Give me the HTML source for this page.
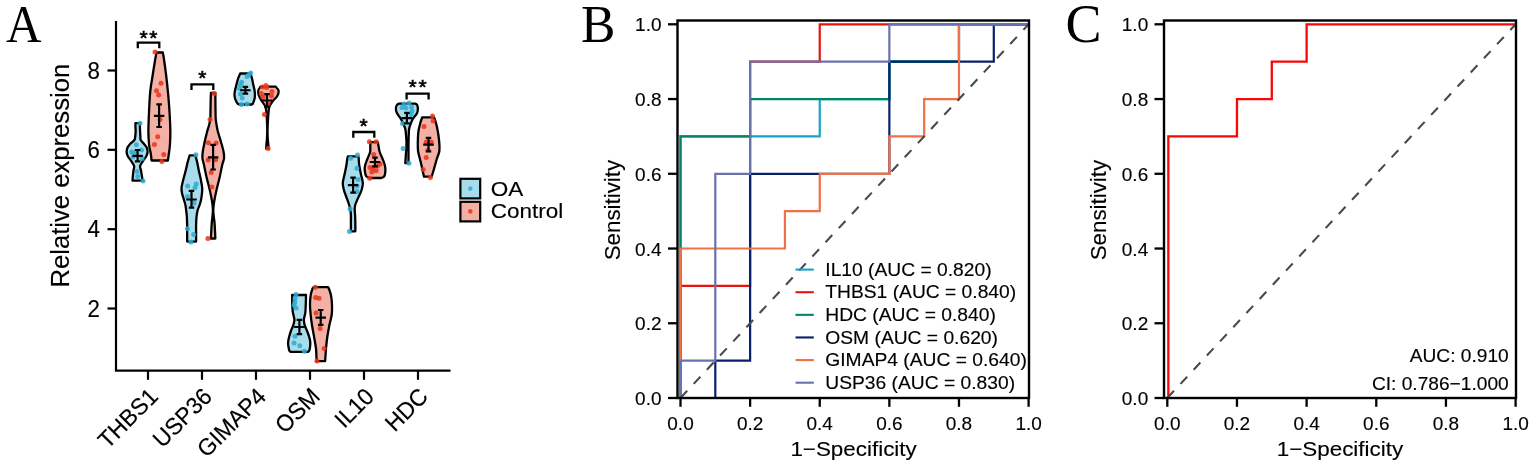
<!DOCTYPE html>
<html lang="en"><head><meta charset="utf-8"><title>Figure</title>
<style>
html,body{margin:0;padding:0;background:#fff;}
body{width:1535px;height:468px;overflow:hidden;}
svg{display:block;}
text{font-family:"Liberation Sans",sans-serif;fill:#000;stroke:#000;stroke-width:0.15px;}
text.sf{font-family:"Liberation Serif",serif;stroke:none;}
</style></head><body>
<svg width="1535" height="468" viewBox="0 0 1535 468">
<rect x="0" y="0" width="1535" height="468" fill="#fff"/>
<text class="sf" transform="translate(6.00,41.70) scale(1,1.080)" font-size="49.20">A</text>
<text class="sf" transform="translate(581.00,41.70) scale(1,1.009)" font-size="51.60">B</text>
<text class="sf" transform="translate(1065.40,42.00) scale(1,1.000)" font-size="54.00">C</text>
<g id="panelA">
<path d="M116.00,21V370.60H450.5" fill="none" stroke="#000" stroke-width="2.2" stroke-linejoin="miter"/>
<path d="M107.5,70.50H116.00" stroke="#000" stroke-width="2.2"/>
<text transform="translate(100.00,78.63) scale(1,1.060)" font-size="22.30" text-anchor="end">8</text>
<path d="M107.5,149.80H116.00" stroke="#000" stroke-width="2.2"/>
<text transform="translate(100.00,157.93) scale(1,1.060)" font-size="22.30" text-anchor="end">6</text>
<path d="M107.5,229.20H116.00" stroke="#000" stroke-width="2.2"/>
<text transform="translate(100.00,237.33) scale(1,1.060)" font-size="22.30" text-anchor="end">4</text>
<path d="M107.5,308.50H116.00" stroke="#000" stroke-width="2.2"/>
<text transform="translate(100.00,316.63) scale(1,1.060)" font-size="22.30" text-anchor="end">2</text>
<path d="M148.00,370.60V379.8" stroke="#000" stroke-width="2.2"/>
<text transform="translate(159.40,398.00) rotate(-45) scale(1,1.040)" font-size="22.70" text-anchor="end">THBS1</text>
<path d="M202.00,370.60V379.8" stroke="#000" stroke-width="2.2"/>
<text transform="translate(213.40,398.00) rotate(-45) scale(1,1.040)" font-size="22.70" text-anchor="end">USP36</text>
<path d="M256.00,370.60V379.8" stroke="#000" stroke-width="2.2"/>
<text transform="translate(267.40,398.00) rotate(-45) scale(1,1.040)" font-size="22.70" text-anchor="end">GIMAP4</text>
<path d="M310.00,370.60V379.8" stroke="#000" stroke-width="2.2"/>
<text transform="translate(321.40,398.00) rotate(-45) scale(1,1.040)" font-size="22.70" text-anchor="end">OSM</text>
<path d="M364.00,370.60V379.8" stroke="#000" stroke-width="2.2"/>
<text transform="translate(375.40,398.00) rotate(-45) scale(1,1.040)" font-size="22.70" text-anchor="end">IL10</text>
<path d="M418.00,370.60V379.8" stroke="#000" stroke-width="2.2"/>
<text transform="translate(429.40,398.00) rotate(-45) scale(1,1.040)" font-size="22.70" text-anchor="end">HDC</text>
<text transform="translate(69.3,175.7) rotate(-90) scale(1,0.99)" font-size="25.65" text-anchor="middle">Relative expression</text>
<path d="M135.40,123.20 C135.42,123.83 135.46,125.60 135.50,127.00 C135.54,128.40 135.70,130.00 135.65,131.60 C135.60,133.20 135.41,135.20 135.20,136.60 C134.99,138.00 135.22,138.81 134.40,140.00 C133.58,141.19 131.45,142.50 130.30,143.75 C129.15,145.00 128.12,146.14 127.50,147.50 C126.88,148.86 126.55,150.44 126.60,151.90 C126.65,153.36 127.08,154.80 127.80,156.25 C128.52,157.70 129.85,158.97 130.90,160.60 C131.95,162.22 133.67,164.35 134.10,166.00 C134.53,167.65 133.72,168.71 133.50,170.50 C133.28,172.29 132.97,175.05 132.80,176.75 C132.63,178.45 132.55,180.04 132.50,180.70 L142.60,180.70 C142.50,180.04 142.27,178.45 142.00,176.75 C141.73,175.05 141.32,172.29 141.00,170.50 C140.68,168.71 139.73,167.65 140.10,166.00 C140.47,164.35 142.16,162.22 143.20,160.60 C144.24,158.97 145.62,157.70 146.35,156.25 C147.08,154.80 147.54,153.36 147.60,151.90 C147.66,150.44 147.32,148.86 146.70,147.50 C146.07,146.14 144.85,145.00 143.85,143.75 C142.85,142.50 141.27,141.19 140.70,140.00 C140.12,138.81 140.50,138.00 140.40,136.60 C140.30,135.20 140.18,133.20 140.10,131.60 C140.02,130.00 139.95,128.40 139.90,127.00 C139.85,125.60 139.82,123.83 139.80,123.20 Z" fill="#a9dcea" stroke="#000" stroke-width="2.30" stroke-linejoin="round"/>
<path d="M156.50,52.50 C156.27,53.75 155.73,56.25 155.10,60.00 C154.47,63.75 153.50,69.83 152.70,75.00 C151.90,80.17 150.90,85.17 150.30,91.00 C149.70,96.83 149.42,103.25 149.10,110.00 C148.78,116.75 148.40,125.67 148.40,131.50 C148.40,137.33 148.75,141.58 149.10,145.00 C149.45,148.42 150.15,150.00 150.50,152.00 C150.85,154.00 151.03,155.58 151.20,157.00 C151.37,158.42 151.45,159.92 151.50,160.50 L167.85,160.50 C167.94,159.92 168.19,158.42 168.40,157.00 C168.61,155.58 168.85,154.00 169.10,152.00 C169.35,150.00 169.69,148.42 169.90,145.00 C170.11,141.58 170.43,137.33 170.35,131.50 C170.27,125.67 169.82,116.75 169.40,110.00 C168.98,103.25 168.40,96.83 167.85,91.00 C167.30,85.17 166.72,80.17 166.10,75.00 C165.47,69.83 164.64,63.75 164.10,60.00 C163.56,56.25 163.06,53.75 162.85,52.50 Z" fill="#f5b0a6" stroke="#000" stroke-width="2.30" stroke-linejoin="round"/>
<path d="M189.65,155.40 C189.33,156.50 188.37,159.44 187.70,162.00 C187.03,164.56 186.40,167.75 185.65,170.75 C184.90,173.75 183.89,177.12 183.20,180.00 C182.51,182.88 181.67,185.67 181.50,188.00 C181.33,190.33 181.78,192.00 182.20,194.00 C182.62,196.00 183.47,198.17 184.00,200.00 C184.53,201.83 185.05,203.33 185.40,205.00 C185.75,206.67 185.87,208.17 186.10,210.00 C186.33,211.83 186.62,213.50 186.80,216.00 C186.98,218.50 187.09,222.00 187.15,225.00 C187.21,228.00 187.15,231.23 187.15,234.00 C187.15,236.77 187.15,240.33 187.15,241.60 L196.10,241.60 C196.10,240.33 196.10,236.77 196.10,234.00 C196.10,231.23 196.02,228.00 196.10,225.00 C196.18,222.00 196.33,218.50 196.60,216.00 C196.87,213.50 197.20,211.83 197.70,210.00 C198.20,208.17 199.05,206.67 199.60,205.00 C200.15,203.33 200.62,201.83 201.00,200.00 C201.38,198.17 201.70,196.00 201.90,194.00 C202.10,192.00 202.37,190.33 202.20,188.00 C202.03,185.67 201.46,182.88 200.90,180.00 C200.34,177.12 199.48,173.75 198.85,170.75 C198.22,167.75 197.68,164.56 197.10,162.00 C196.52,159.44 195.64,156.50 195.35,155.40 Z" fill="#a9dcea" stroke="#000" stroke-width="2.30" stroke-linejoin="round"/>
<path d="M210.90,92.90 C210.87,94.08 210.77,97.15 210.70,100.00 C210.63,102.85 210.57,106.83 210.50,110.00 C210.43,113.17 210.53,116.50 210.30,119.00 C210.07,121.50 209.62,122.92 209.10,125.00 C208.57,127.08 207.89,128.67 207.15,131.50 C206.41,134.33 205.38,138.67 204.65,142.00 C203.93,145.33 203.18,148.83 202.80,151.50 C202.43,154.17 202.20,155.75 202.40,158.00 C202.60,160.25 203.32,161.83 204.00,165.00 C204.68,168.17 205.56,172.92 206.50,177.00 C207.44,181.08 208.71,185.33 209.65,189.50 C210.59,193.67 211.61,198.67 212.15,202.00 C212.69,205.33 212.84,207.17 212.90,209.50 C212.96,211.83 212.68,213.83 212.50,216.00 C212.32,218.17 212.00,220.00 211.80,222.50 C211.60,225.00 211.45,228.33 211.30,231.00 C211.15,233.67 210.97,237.25 210.90,238.50 L215.35,238.50 C215.29,237.25 215.14,233.67 215.00,231.00 C214.86,228.33 214.72,225.00 214.50,222.50 C214.28,220.00 213.90,218.17 213.70,216.00 C213.50,213.83 213.23,211.83 213.30,209.50 C213.37,207.17 213.55,205.33 214.10,202.00 C214.65,198.67 215.67,193.67 216.60,189.50 C217.53,185.33 218.77,181.08 219.70,177.00 C220.63,172.92 221.47,168.17 222.20,165.00 C222.93,161.83 223.88,160.25 224.10,158.00 C224.32,155.75 224.02,154.17 223.50,151.50 C222.98,148.83 221.94,145.33 221.00,142.00 C220.06,138.67 218.58,134.33 217.85,131.50 C217.12,128.67 216.96,127.08 216.60,125.00 C216.24,122.92 215.88,121.50 215.70,119.00 C215.52,116.50 215.55,113.17 215.50,110.00 C215.45,106.83 215.43,102.85 215.40,100.00 C215.38,97.15 215.36,94.08 215.35,92.90 Z" fill="#f5b0a6" stroke="#000" stroke-width="2.30" stroke-linejoin="round"/>
<path d="M240.20,73.50 C239.85,74.33 238.73,76.62 238.10,78.50 C237.47,80.38 236.90,82.83 236.40,84.75 C235.90,86.67 235.42,88.46 235.10,90.00 C234.78,91.54 234.53,92.67 234.50,94.00 C234.47,95.33 234.60,96.75 234.90,98.00 C235.20,99.25 235.83,100.53 236.30,101.50 C236.77,102.47 237.22,103.30 237.70,103.80 C238.18,104.30 238.95,104.38 239.20,104.50 L251.90,104.50 C252.03,104.38 252.40,104.30 252.70,103.80 C253.00,103.30 253.37,102.47 253.70,101.50 C254.03,100.53 254.50,99.25 254.70,98.00 C254.90,96.75 254.93,95.33 254.90,94.00 C254.87,92.67 254.77,91.54 254.50,90.00 C254.23,88.46 253.72,86.67 253.30,84.75 C252.88,82.83 252.50,80.38 252.00,78.50 C251.50,76.62 250.58,74.33 250.30,73.50 Z" fill="#a9dcea" stroke="#000" stroke-width="2.30" stroke-linejoin="round"/>
<path d="M260.50,86.70 C260.13,87.29 258.63,88.95 258.30,90.25 C257.97,91.55 258.18,93.14 258.50,94.50 C258.82,95.86 259.55,97.15 260.20,98.40 C260.85,99.65 261.62,100.80 262.40,102.00 C263.18,103.20 264.28,104.27 264.90,105.60 C265.52,106.93 265.78,107.77 266.10,110.00 C266.42,112.23 266.62,115.83 266.80,119.00 C266.98,122.17 267.17,126.00 267.20,129.00 C267.23,132.00 267.13,134.50 267.00,137.00 C266.87,139.50 266.55,142.05 266.40,144.00 C266.25,145.95 266.15,147.92 266.10,148.70 L268.70,148.70 C268.63,147.92 268.47,145.95 268.30,144.00 C268.13,142.05 267.82,139.50 267.70,137.00 C267.58,134.50 267.53,132.00 267.60,129.00 C267.67,126.00 267.90,122.17 268.10,119.00 C268.30,115.83 268.50,112.23 268.80,110.00 C269.10,107.77 269.12,107.22 269.90,105.60 C270.68,103.97 272.32,101.77 273.50,100.25 C274.68,98.73 276.13,98.06 277.00,96.50 C277.87,94.94 278.92,92.53 278.70,90.90 C278.48,89.27 276.20,87.40 275.70,86.70 Z" fill="#f5b0a6" stroke="#000" stroke-width="2.2" stroke-linejoin="round"/>
<path d="M292.20,295.00 C292.20,295.83 292.18,298.17 292.20,300.00 C292.22,301.83 292.20,304.00 292.30,306.00 C292.40,308.00 292.57,310.33 292.80,312.00 C293.03,313.67 293.43,314.75 293.70,316.00 C293.97,317.25 294.33,318.50 294.40,319.50 C294.47,320.50 294.25,321.17 294.10,322.00 C293.95,322.83 293.78,323.58 293.50,324.50 C293.22,325.42 292.82,326.46 292.40,327.50 C291.98,328.54 291.55,329.17 291.00,330.75 C290.45,332.33 289.55,335.33 289.10,337.00 C288.65,338.67 288.47,339.58 288.30,340.75 C288.13,341.92 288.02,342.71 288.10,344.00 C288.18,345.29 288.57,347.33 288.80,348.50 C289.03,349.67 289.18,350.44 289.50,351.00 C289.82,351.56 290.50,351.71 290.70,351.85 L307.90,351.85 C308.08,351.71 308.68,351.56 309.00,351.00 C309.32,350.44 309.58,349.67 309.80,348.50 C310.02,347.33 310.25,345.29 310.30,344.00 C310.35,342.71 310.28,341.92 310.10,340.75 C309.92,339.58 309.72,338.67 309.20,337.00 C308.68,335.33 307.60,332.33 307.00,330.75 C306.40,329.17 306.02,328.54 305.60,327.50 C305.18,326.46 304.75,325.42 304.50,324.50 C304.25,323.58 304.21,322.83 304.10,322.00 C303.99,321.17 303.77,320.50 303.85,319.50 C303.93,318.50 304.34,317.25 304.60,316.00 C304.86,314.75 305.22,313.67 305.40,312.00 C305.58,310.33 305.62,308.00 305.70,306.00 C305.78,304.00 305.85,301.83 305.90,300.00 C305.95,298.17 305.98,295.83 306.00,295.00 Z" fill="#a9dcea" stroke="#000" stroke-width="2.30" stroke-linejoin="round"/>
<path d="M313.50,287.20 C313.32,287.50 312.88,287.63 312.40,289.00 C311.92,290.37 311.05,292.77 310.65,295.40 C310.25,298.02 310.00,301.52 310.00,304.75 C310.00,307.98 310.33,311.46 310.65,314.75 C310.97,318.04 311.32,320.79 311.90,324.50 C312.47,328.21 313.42,333.00 314.10,337.00 C314.78,341.00 315.62,345.33 316.00,348.50 C316.38,351.67 316.30,353.90 316.40,356.00 C316.50,358.10 316.57,360.25 316.60,361.10 L325.10,361.10 C325.17,360.25 325.35,358.10 325.50,356.00 C325.65,353.90 325.70,351.67 326.00,348.50 C326.30,345.33 326.72,341.00 327.30,337.00 C327.88,333.00 328.77,328.21 329.50,324.50 C330.23,320.79 331.28,318.04 331.70,314.75 C332.12,311.46 332.12,307.98 332.00,304.75 C331.88,301.52 331.50,298.02 331.00,295.40 C330.50,292.77 329.48,290.37 329.00,289.00 C328.52,287.63 328.25,287.50 328.10,287.20 Z" fill="#f5b0a6" stroke="#000" stroke-width="2.30" stroke-linejoin="round"/>
<path d="M347.80,156.40 C347.68,157.00 347.32,158.65 347.10,160.00 C346.88,161.35 346.77,162.83 346.50,164.50 C346.23,166.17 345.85,168.25 345.50,170.00 C345.15,171.75 344.85,172.83 344.40,175.00 C343.95,177.17 342.88,180.50 342.80,183.00 C342.72,185.50 343.38,187.88 343.90,190.00 C344.42,192.12 345.05,193.33 345.90,195.75 C346.75,198.17 348.27,202.21 349.00,204.50 C349.73,206.79 349.98,207.75 350.30,209.50 C350.62,211.25 350.80,212.58 350.90,215.00 C351.00,217.42 350.90,221.28 350.90,224.00 C350.90,226.72 350.90,230.12 350.90,231.35 L355.35,231.35 C355.35,230.12 355.39,226.72 355.35,224.00 C355.31,221.28 355.21,217.42 355.10,215.00 C354.99,212.58 354.66,211.25 354.70,209.50 C354.74,207.75 354.62,206.79 355.35,204.50 C356.08,202.21 358.06,198.17 359.10,195.75 C360.14,193.33 360.98,192.12 361.60,190.00 C362.23,187.88 362.93,185.50 362.85,183.00 C362.77,180.50 361.56,177.17 361.10,175.00 C360.64,172.83 360.43,171.75 360.10,170.00 C359.77,168.25 359.32,166.17 359.10,164.50 C358.88,162.83 358.90,161.35 358.80,160.00 C358.70,158.65 358.55,157.00 358.50,156.40 Z" fill="#a9dcea" stroke="#000" stroke-width="2.30" stroke-linejoin="round"/>
<path d="M370.30,142.15 C370.30,142.96 370.33,145.36 370.30,147.00 C370.27,148.64 370.62,149.92 370.10,152.00 C369.57,154.08 367.92,157.50 367.15,159.50 C366.38,161.50 365.92,162.54 365.50,164.00 C365.08,165.46 364.68,166.67 364.65,168.25 C364.62,169.83 364.99,172.12 365.30,173.50 C365.61,174.88 365.73,175.75 366.50,176.50 C367.27,177.25 369.33,177.75 369.90,178.00 L381.30,178.00 C381.77,177.75 383.47,177.25 384.10,176.50 C384.73,175.75 384.89,174.88 385.10,173.50 C385.31,172.12 385.45,169.83 385.35,168.25 C385.25,166.67 384.92,165.46 384.50,164.00 C384.08,162.54 383.65,161.50 382.85,159.50 C382.05,157.50 380.39,154.08 379.70,152.00 C379.01,149.92 379.01,148.64 378.70,147.00 C378.39,145.36 377.99,142.96 377.85,142.15 Z" fill="#f5b0a6" stroke="#000" stroke-width="2.30" stroke-linejoin="round"/>
<path d="M398.90,103.65 C398.57,103.88 397.40,104.21 396.90,105.00 C396.40,105.79 395.90,107.07 395.90,108.40 C395.90,109.73 396.07,111.23 396.90,113.00 C397.73,114.77 399.82,117.17 400.90,119.00 C401.98,120.83 402.67,122.33 403.40,124.00 C404.13,125.67 404.85,127.00 405.30,129.00 C405.75,131.00 405.90,133.50 406.10,136.00 C406.30,138.50 406.53,141.00 406.50,144.00 C406.47,147.00 406.10,150.83 405.90,154.00 C405.70,157.17 405.40,161.50 405.30,163.00 L408.50,163.00 C408.50,161.50 408.50,157.17 408.50,154.00 C408.50,150.83 408.47,147.00 408.50,144.00 C408.53,141.00 408.60,138.50 408.70,136.00 C408.80,133.50 408.78,131.00 409.10,129.00 C409.42,127.00 409.98,125.67 410.60,124.00 C411.23,122.33 411.77,120.83 412.85,119.00 C413.93,117.17 416.27,114.77 417.10,113.00 C417.93,111.23 417.85,109.73 417.85,108.40 C417.85,107.07 417.52,105.79 417.10,105.00 C416.68,104.21 415.64,103.88 415.35,103.65 Z" fill="#a9dcea" stroke="#000" stroke-width="2.30" stroke-linejoin="round"/>
<path d="M422.15,117.40 C421.84,118.33 420.92,120.65 420.30,123.00 C419.67,125.35 418.80,128.83 418.40,131.50 C418.00,134.17 418.00,136.75 417.90,139.00 C417.80,141.25 417.77,142.92 417.80,145.00 C417.83,147.08 417.78,149.33 418.10,151.50 C418.42,153.67 419.15,155.75 419.70,158.00 C420.25,160.25 420.87,162.67 421.40,165.00 C421.93,167.33 422.47,170.05 422.90,172.00 C423.33,173.95 423.82,175.92 424.00,176.70 L431.60,176.70 C431.85,175.92 432.52,173.95 433.10,172.00 C433.68,170.05 434.43,167.33 435.10,165.00 C435.77,162.67 436.40,160.25 437.10,158.00 C437.80,155.75 438.92,153.67 439.30,151.50 C439.68,149.33 439.47,147.08 439.40,145.00 C439.33,142.92 439.16,141.25 438.90,139.00 C438.64,136.75 438.33,134.17 437.85,131.50 C437.37,128.83 436.62,125.35 436.00,123.00 C435.38,120.65 434.42,118.33 434.10,117.40 Z" fill="#f5b0a6" stroke="#000" stroke-width="2.30" stroke-linejoin="round"/>
<circle cx="140.0" cy="123.2" r="2.5" fill="#2dabd3" fill-opacity="0.85"/>
<circle cx="136.3" cy="144.7" r="2.5" fill="#2dabd3" fill-opacity="0.85"/>
<circle cx="131.6" cy="151.9" r="2.5" fill="#2dabd3" fill-opacity="0.85"/>
<circle cx="134.5" cy="152.6" r="2.5" fill="#2dabd3" fill-opacity="0.85"/>
<circle cx="141.5" cy="150.0" r="2.5" fill="#2dabd3" fill-opacity="0.85"/>
<circle cx="133.0" cy="157.0" r="2.5" fill="#2dabd3" fill-opacity="0.85"/>
<circle cx="142.0" cy="158.5" r="2.5" fill="#2dabd3" fill-opacity="0.85"/>
<circle cx="137.2" cy="171.4" r="2.5" fill="#2dabd3" fill-opacity="0.85"/>
<circle cx="137.7" cy="176.4" r="2.5" fill="#2dabd3" fill-opacity="0.85"/>
<circle cx="143.0" cy="181.0" r="2.5" fill="#2dabd3" fill-opacity="0.85"/>
<circle cx="155.0" cy="52.0" r="2.5" fill="#ea3419" fill-opacity="0.85"/>
<circle cx="161.0" cy="83.2" r="2.5" fill="#ea3419" fill-opacity="0.85"/>
<circle cx="156.5" cy="90.7" r="2.5" fill="#ea3419" fill-opacity="0.85"/>
<circle cx="158.7" cy="95.0" r="2.5" fill="#ea3419" fill-opacity="0.85"/>
<circle cx="160.0" cy="119.6" r="2.5" fill="#ea3419" fill-opacity="0.85"/>
<circle cx="157.7" cy="136.7" r="2.5" fill="#ea3419" fill-opacity="0.85"/>
<circle cx="154.4" cy="144.6" r="2.5" fill="#ea3419" fill-opacity="0.85"/>
<circle cx="163.8" cy="154.4" r="2.5" fill="#ea3419" fill-opacity="0.85"/>
<circle cx="161.9" cy="161.6" r="2.5" fill="#ea3419" fill-opacity="0.85"/>
<circle cx="196.0" cy="154.7" r="2.5" fill="#2dabd3" fill-opacity="0.85"/>
<circle cx="196.2" cy="183.9" r="2.5" fill="#2dabd3" fill-opacity="0.85"/>
<circle cx="187.7" cy="186.0" r="2.5" fill="#2dabd3" fill-opacity="0.85"/>
<circle cx="195.0" cy="187.6" r="2.5" fill="#2dabd3" fill-opacity="0.85"/>
<circle cx="187.5" cy="196.4" r="2.5" fill="#2dabd3" fill-opacity="0.85"/>
<circle cx="194.0" cy="203.0" r="2.5" fill="#2dabd3" fill-opacity="0.85"/>
<circle cx="187.5" cy="228.7" r="2.5" fill="#2dabd3" fill-opacity="0.85"/>
<circle cx="193.7" cy="234.4" r="2.5" fill="#2dabd3" fill-opacity="0.85"/>
<circle cx="190.9" cy="241.9" r="2.5" fill="#2dabd3" fill-opacity="0.85"/>
<circle cx="214.2" cy="93.5" r="2.5" fill="#ea3419" fill-opacity="0.85"/>
<circle cx="210.0" cy="119.6" r="2.5" fill="#ea3419" fill-opacity="0.85"/>
<circle cx="208.4" cy="142.7" r="2.5" fill="#ea3419" fill-opacity="0.85"/>
<circle cx="216.2" cy="143.0" r="2.5" fill="#ea3419" fill-opacity="0.85"/>
<circle cx="208.1" cy="160.1" r="2.5" fill="#ea3419" fill-opacity="0.85"/>
<circle cx="215.6" cy="159.7" r="2.5" fill="#ea3419" fill-opacity="0.85"/>
<circle cx="211.2" cy="172.6" r="2.5" fill="#ea3419" fill-opacity="0.85"/>
<circle cx="211.9" cy="187.0" r="2.5" fill="#ea3419" fill-opacity="0.85"/>
<circle cx="207.9" cy="238.5" r="2.5" fill="#ea3419" fill-opacity="0.85"/>
<circle cx="250.7" cy="72.9" r="2.5" fill="#2dabd3" fill-opacity="0.85"/>
<circle cx="248.8" cy="74.8" r="2.5" fill="#2dabd3" fill-opacity="0.85"/>
<circle cx="247.0" cy="76.6" r="2.5" fill="#2dabd3" fill-opacity="0.85"/>
<circle cx="241.6" cy="82.2" r="2.5" fill="#2dabd3" fill-opacity="0.85"/>
<circle cx="240.4" cy="84.7" r="2.5" fill="#2dabd3" fill-opacity="0.85"/>
<circle cx="239.5" cy="88.5" r="2.5" fill="#2dabd3" fill-opacity="0.85"/>
<circle cx="240.5" cy="94.0" r="2.5" fill="#2dabd3" fill-opacity="0.85"/>
<circle cx="242.2" cy="98.0" r="2.5" fill="#2dabd3" fill-opacity="0.85"/>
<circle cx="241.6" cy="104.6" r="2.5" fill="#2dabd3" fill-opacity="0.85"/>
<circle cx="247.2" cy="104.0" r="2.5" fill="#2dabd3" fill-opacity="0.85"/>
<circle cx="262.6" cy="87.0" r="2.5" fill="#ea3419" fill-opacity="0.85"/>
<circle cx="266.0" cy="85.4" r="2.5" fill="#ea3419" fill-opacity="0.85"/>
<circle cx="266.6" cy="87.6" r="2.5" fill="#ea3419" fill-opacity="0.85"/>
<circle cx="272.0" cy="91.6" r="2.5" fill="#ea3419" fill-opacity="0.85"/>
<circle cx="261.3" cy="93.5" r="2.5" fill="#ea3419" fill-opacity="0.85"/>
<circle cx="263.0" cy="97.0" r="2.5" fill="#ea3419" fill-opacity="0.85"/>
<circle cx="271.5" cy="96.0" r="2.5" fill="#ea3419" fill-opacity="0.85"/>
<circle cx="264.4" cy="114.6" r="2.5" fill="#ea3419" fill-opacity="0.85"/>
<circle cx="268.1" cy="148.6" r="2.5" fill="#ea3419" fill-opacity="0.85"/>
<circle cx="268.0" cy="104.0" r="2.5" fill="#ea3419" fill-opacity="0.85"/>
<circle cx="296.0" cy="294.4" r="2.5" fill="#2dabd3" fill-opacity="0.85"/>
<circle cx="295.0" cy="298.2" r="2.5" fill="#2dabd3" fill-opacity="0.85"/>
<circle cx="294.8" cy="302.0" r="2.5" fill="#2dabd3" fill-opacity="0.85"/>
<circle cx="294.1" cy="305.0" r="2.5" fill="#2dabd3" fill-opacity="0.85"/>
<circle cx="296.0" cy="307.9" r="2.5" fill="#2dabd3" fill-opacity="0.85"/>
<circle cx="295.0" cy="336.3" r="2.5" fill="#2dabd3" fill-opacity="0.85"/>
<circle cx="294.1" cy="342.9" r="2.5" fill="#2dabd3" fill-opacity="0.85"/>
<circle cx="299.8" cy="345.7" r="2.5" fill="#2dabd3" fill-opacity="0.85"/>
<circle cx="304.4" cy="351.3" r="2.5" fill="#2dabd3" fill-opacity="0.85"/>
<circle cx="315.4" cy="287.2" r="2.5" fill="#ea3419" fill-opacity="0.85"/>
<circle cx="315.7" cy="297.6" r="2.5" fill="#ea3419" fill-opacity="0.85"/>
<circle cx="319.1" cy="298.2" r="2.5" fill="#ea3419" fill-opacity="0.85"/>
<circle cx="316.0" cy="312.9" r="2.5" fill="#ea3419" fill-opacity="0.85"/>
<circle cx="320.1" cy="328.6" r="2.5" fill="#ea3419" fill-opacity="0.85"/>
<circle cx="324.1" cy="348.5" r="2.5" fill="#ea3419" fill-opacity="0.85"/>
<circle cx="316.9" cy="361.0" r="2.5" fill="#ea3419" fill-opacity="0.85"/>
<circle cx="357.5" cy="155.1" r="2.5" fill="#2dabd3" fill-opacity="0.85"/>
<circle cx="350.6" cy="158.2" r="2.5" fill="#2dabd3" fill-opacity="0.85"/>
<circle cx="356.9" cy="168.2" r="2.5" fill="#2dabd3" fill-opacity="0.85"/>
<circle cx="358.1" cy="179.5" r="2.5" fill="#2dabd3" fill-opacity="0.85"/>
<circle cx="356.9" cy="191.4" r="2.5" fill="#2dabd3" fill-opacity="0.85"/>
<circle cx="350.0" cy="208.9" r="2.5" fill="#2dabd3" fill-opacity="0.85"/>
<circle cx="349.4" cy="231.5" r="2.5" fill="#2dabd3" fill-opacity="0.85"/>
<circle cx="357.0" cy="186.0" r="2.5" fill="#2dabd3" fill-opacity="0.85"/>
<circle cx="369.4" cy="141.7" r="2.5" fill="#ea3419" fill-opacity="0.85"/>
<circle cx="376.2" cy="141.7" r="2.5" fill="#ea3419" fill-opacity="0.85"/>
<circle cx="373.7" cy="154.5" r="2.5" fill="#ea3419" fill-opacity="0.85"/>
<circle cx="380.0" cy="163.9" r="2.5" fill="#ea3419" fill-opacity="0.85"/>
<circle cx="370.0" cy="167.6" r="2.5" fill="#ea3419" fill-opacity="0.85"/>
<circle cx="376.2" cy="170.7" r="2.5" fill="#ea3419" fill-opacity="0.85"/>
<circle cx="371.9" cy="172.0" r="2.5" fill="#ea3419" fill-opacity="0.85"/>
<circle cx="369.7" cy="178.2" r="2.5" fill="#ea3419" fill-opacity="0.85"/>
<circle cx="373.0" cy="168.0" r="2.5" fill="#ea3419" fill-opacity="0.85"/>
<circle cx="377.5" cy="166.0" r="2.5" fill="#ea3419" fill-opacity="0.85"/>
<circle cx="404.0" cy="104.0" r="2.5" fill="#2dabd3" fill-opacity="0.85"/>
<circle cx="409.0" cy="103.0" r="2.5" fill="#2dabd3" fill-opacity="0.85"/>
<circle cx="411.5" cy="107.0" r="2.5" fill="#2dabd3" fill-opacity="0.85"/>
<circle cx="406.0" cy="108.0" r="2.5" fill="#2dabd3" fill-opacity="0.85"/>
<circle cx="402.0" cy="107.5" r="2.5" fill="#2dabd3" fill-opacity="0.85"/>
<circle cx="412.0" cy="111.0" r="2.5" fill="#2dabd3" fill-opacity="0.85"/>
<circle cx="411.0" cy="114.5" r="2.5" fill="#2dabd3" fill-opacity="0.85"/>
<circle cx="402.5" cy="123.4" r="2.5" fill="#2dabd3" fill-opacity="0.85"/>
<circle cx="403.1" cy="148.4" r="2.5" fill="#2dabd3" fill-opacity="0.85"/>
<circle cx="409.0" cy="163.2" r="2.5" fill="#2dabd3" fill-opacity="0.85"/>
<circle cx="432.5" cy="115.9" r="2.5" fill="#ea3419" fill-opacity="0.85"/>
<circle cx="433.1" cy="120.9" r="2.5" fill="#ea3419" fill-opacity="0.85"/>
<circle cx="424.0" cy="126.5" r="2.5" fill="#ea3419" fill-opacity="0.85"/>
<circle cx="426.2" cy="142.1" r="2.5" fill="#ea3419" fill-opacity="0.85"/>
<circle cx="431.2" cy="142.1" r="2.5" fill="#ea3419" fill-opacity="0.85"/>
<circle cx="426.2" cy="157.6" r="2.5" fill="#ea3419" fill-opacity="0.85"/>
<circle cx="423.1" cy="169.5" r="2.5" fill="#ea3419" fill-opacity="0.85"/>
<circle cx="430.4" cy="177.6" r="2.5" fill="#ea3419" fill-opacity="0.85"/>
<circle cx="428.0" cy="150.0" r="2.5" fill="#ea3419" fill-opacity="0.85"/>
<path d="M137.60,150.00V161.40M134.85,150.00H140.35M134.85,161.40H140.35M132.35,155.90H142.85" fill="none" stroke="#000" stroke-width="2.20"/>
<path d="M159.10,104.30V127.00M156.35,104.30H161.85M156.35,127.00H161.85M153.85,115.90H164.35" fill="none" stroke="#000" stroke-width="2.20"/>
<path d="M191.50,190.80V207.60M188.75,190.80H194.25M188.75,207.60H194.25M186.25,199.50H196.75" fill="none" stroke="#000" stroke-width="2.20"/>
<path d="M213.10,144.80V169.50M210.35,144.80H215.85M210.35,169.50H215.85M207.85,157.30H218.35" fill="none" stroke="#000" stroke-width="2.20"/>
<path d="M245.40,86.80V93.70M242.65,86.80H248.15M242.65,93.70H248.15M240.15,90.25H250.65" fill="none" stroke="#000" stroke-width="2.20"/>
<path d="M267.00,94.20V106.80M264.25,94.20H269.75M264.25,106.80H269.75M261.75,100.50H272.25" fill="none" stroke="#000" stroke-width="2.20"/>
<path d="M299.40,319.80V334.20M296.65,319.80H302.15M296.65,334.20H302.15M294.15,327.00H304.65" fill="none" stroke="#000" stroke-width="2.20"/>
<path d="M320.70,310.00V324.90M317.95,310.00H323.45M317.95,324.90H323.45M315.45,317.60H325.95" fill="none" stroke="#000" stroke-width="2.20"/>
<path d="M353.10,177.60V192.60M350.35,177.60H355.85M350.35,192.60H355.85M347.85,185.10H358.35" fill="none" stroke="#000" stroke-width="2.20"/>
<path d="M375.00,157.60V166.40M372.25,157.60H377.75M372.25,166.40H377.75M369.75,162.00H380.25" fill="none" stroke="#000" stroke-width="2.20"/>
<path d="M406.90,112.80V123.40M404.15,112.80H409.65M404.15,123.40H409.65M401.65,118.10H412.15" fill="none" stroke="#000" stroke-width="2.20"/>
<path d="M428.50,137.80V151.40M425.75,137.80H431.25M425.75,151.40H431.25M423.25,144.60H433.75" fill="none" stroke="#000" stroke-width="2.20"/>
<path d="M137.80,48.30V42.60H159.30V48.30" fill="none" stroke="#000" stroke-width="2.3"/>
<text transform="translate(149.35,44.71) scale(1,0.970)" font-size="21.00" text-anchor="middle" letter-spacing="1.8" style="stroke-width:0.6px">**</text>
<path d="M191.50,90.10V84.40H213.30V90.10" fill="none" stroke="#000" stroke-width="2.3"/>
<text transform="translate(203.20,84.71) scale(1,0.970)" font-size="21.00" text-anchor="middle" letter-spacing="1.8" style="stroke-width:0.6px">*</text>
<path d="M353.30,137.70V132.00H374.30V137.70" fill="none" stroke="#000" stroke-width="2.3"/>
<text transform="translate(364.60,132.61) scale(1,0.970)" font-size="21.00" text-anchor="middle" letter-spacing="1.8" style="stroke-width:0.6px">*</text>
<path d="M406.60,99.50V93.60H428.60V99.50" fill="none" stroke="#000" stroke-width="2.3"/>
<text transform="translate(418.40,94.31) scale(1,0.970)" font-size="21.00" text-anchor="middle" letter-spacing="1.8" style="stroke-width:0.6px">**</text>
<rect x="460.4" y="178.8" width="19.8" height="19.6" fill="#a9dcea" stroke="#000" stroke-width="2.2"/>
<rect x="460.4" y="201.8" width="19.8" height="19.6" fill="#f5b0a6" stroke="#000" stroke-width="2.2"/>
<circle cx="470.3" cy="188.6" r="2.3" fill="#2dabd3" fill-opacity="0.85"/>
<circle cx="470.3" cy="211.4" r="2.3" fill="#ea3419" fill-opacity="0.85"/>
<text transform="translate(490.80,195.59) scale(1,0.890)" font-size="22.50" text-anchor="start">OA</text>
<text transform="translate(490.80,218.39) scale(1,0.890)" font-size="22.50" text-anchor="start">Control</text>
</g>
<g id="panelB">
<path d="M680.50,398.00 L680.50,136.41 L819.74,136.41 L819.74,99.04 L889.36,99.04 L889.36,61.67 L958.98,61.67 L958.98,24.30 L1028.60,24.30" fill="none" stroke="#16a2c9" stroke-width="2.20" stroke-linejoin="miter"/>
<path d="M680.50,398.00 L680.50,285.89 L750.12,285.89 L750.12,61.67 L819.74,61.67 L819.74,24.30 L1028.60,24.30" fill="none" stroke="#e6140a" stroke-width="2.20" stroke-linejoin="miter"/>
<path d="M680.50,398.00 L680.50,136.41 L750.12,136.41 L750.12,99.04 L889.36,99.04 L889.36,61.67 L958.98,61.67 L958.98,24.30 L1028.60,24.30" fill="none" stroke="#008566" stroke-width="2.20" stroke-linejoin="miter"/>
<path d="M680.50,398.00 L715.31,398.00 L715.31,360.63 L750.12,360.63 L750.12,173.78 L889.36,173.78 L889.36,61.67 L993.79,61.67 L993.79,24.30 L1028.60,24.30" fill="none" stroke="#08206c" stroke-width="2.20" stroke-linejoin="miter"/>
<path d="M680.50,398.00 L680.50,248.52 L784.93,248.52 L784.93,211.15 L819.74,211.15 L819.74,173.78 L889.36,173.78 L889.36,136.41 L924.17,136.41 L924.17,99.04 L958.98,99.04 L958.98,24.30 L1028.60,24.30" fill="none" stroke="#f07048" stroke-width="2.20" stroke-linejoin="miter"/>
<path d="M680.50,398.00 L680.50,360.63 L715.31,360.63 L715.31,173.78 L750.12,173.78 L750.12,61.67 L889.36,61.67 L889.36,24.30 L1028.60,24.30" fill="none" stroke="#6872ad" stroke-width="2.20" stroke-linejoin="miter"/>
<path d="M680.50,398.00L1028.60,24.30" stroke="#4a4a4a" stroke-width="2.1" stroke-dasharray="9.8 9.55" fill="none"/>
<rect x="677.50" y="20.50" width="351.50" height="377.50" fill="none" stroke="#000" stroke-width="2.4"/>
<path d="M668.00,398.00H677.50" stroke="#000" stroke-width="2.3"/>
<text transform="translate(661.50,405.05) scale(1,1.010)" font-size="19.00" text-anchor="end">0.0</text>
<path d="M680.50,398.00V406.80" stroke="#000" stroke-width="2.3"/>
<text transform="translate(680.50,430.30) scale(1,1.010)" font-size="19.00" text-anchor="middle">0.0</text>
<path d="M668.00,323.26H677.50" stroke="#000" stroke-width="2.3"/>
<text transform="translate(661.50,330.31) scale(1,1.010)" font-size="19.00" text-anchor="end">0.2</text>
<path d="M750.12,398.00V406.80" stroke="#000" stroke-width="2.3"/>
<text transform="translate(750.12,430.30) scale(1,1.010)" font-size="19.00" text-anchor="middle">0.2</text>
<path d="M668.00,248.52H677.50" stroke="#000" stroke-width="2.3"/>
<text transform="translate(661.50,255.57) scale(1,1.010)" font-size="19.00" text-anchor="end">0.4</text>
<path d="M819.74,398.00V406.80" stroke="#000" stroke-width="2.3"/>
<text transform="translate(819.74,430.30) scale(1,1.010)" font-size="19.00" text-anchor="middle">0.4</text>
<path d="M668.00,173.78H677.50" stroke="#000" stroke-width="2.3"/>
<text transform="translate(661.50,180.83) scale(1,1.010)" font-size="19.00" text-anchor="end">0.6</text>
<path d="M889.36,398.00V406.80" stroke="#000" stroke-width="2.3"/>
<text transform="translate(889.36,430.30) scale(1,1.010)" font-size="19.00" text-anchor="middle">0.6</text>
<path d="M668.00,99.04H677.50" stroke="#000" stroke-width="2.3"/>
<text transform="translate(661.50,106.09) scale(1,1.010)" font-size="19.00" text-anchor="end">0.8</text>
<path d="M958.98,398.00V406.80" stroke="#000" stroke-width="2.3"/>
<text transform="translate(958.98,430.30) scale(1,1.010)" font-size="19.00" text-anchor="middle">0.8</text>
<path d="M668.00,24.30H677.50" stroke="#000" stroke-width="2.3"/>
<text transform="translate(661.50,31.35) scale(1,1.010)" font-size="19.00" text-anchor="end">1.0</text>
<path d="M1028.60,398.00V406.80" stroke="#000" stroke-width="2.3"/>
<text transform="translate(1028.60,430.30) scale(1,1.010)" font-size="19.00" text-anchor="middle">1.0</text>
<text transform="translate(853.55,456.40) scale(1,0.920)" font-size="22.40" text-anchor="middle">1−Specificity</text>
<text transform="translate(620.00,210.1) rotate(-90) scale(1,0.95)" font-size="22.3" text-anchor="middle">Sensitivity</text>
<path d="M795.50,269.60H813.80" stroke="#16a2c9" stroke-width="2.1"/>
<text transform="translate(825.30,275.72) scale(1,0.970)" font-size="19.25" text-anchor="start">IL10 (AUC = 0.820)</text>
<path d="M795.50,292.22H813.80" stroke="#e6140a" stroke-width="2.1"/>
<text transform="translate(825.30,298.34) scale(1,0.970)" font-size="19.25" text-anchor="start">THBS1 (AUC = 0.840)</text>
<path d="M795.50,314.84H813.80" stroke="#008566" stroke-width="2.1"/>
<text transform="translate(825.30,320.96) scale(1,0.970)" font-size="19.25" text-anchor="start">HDC (AUC = 0.840)</text>
<path d="M795.50,337.46H813.80" stroke="#08206c" stroke-width="2.1"/>
<text transform="translate(825.30,343.58) scale(1,0.970)" font-size="19.25" text-anchor="start">OSM (AUC = 0.620)</text>
<path d="M795.50,360.08H813.80" stroke="#f07048" stroke-width="2.1"/>
<text transform="translate(825.30,366.20) scale(1,0.970)" font-size="19.25" text-anchor="start">GIMAP4 (AUC = 0.640)</text>
<path d="M795.50,382.70H813.80" stroke="#6872ad" stroke-width="2.1"/>
<text transform="translate(825.30,388.82) scale(1,0.970)" font-size="19.25" text-anchor="start">USP36 (AUC = 0.830)</text>
</g>
<g id="panelC">
<path d="M1168.34,398.00 L1168.34,136.41 L1236.96,136.41 L1236.96,99.04 L1271.79,99.04 L1271.79,61.67 L1306.62,61.67 L1306.62,24.30 L1515.60,24.30" fill="none" stroke="#fa0508" stroke-width="2.30" stroke-linejoin="miter"/>
<path d="M1167.30,398.00L1515.60,24.30" stroke="#4a4a4a" stroke-width="2.1" stroke-dasharray="9.8 9.55" fill="none"/>
<rect x="1164.00" y="20.50" width="352.00" height="377.50" fill="none" stroke="#000" stroke-width="2.4"/>
<path d="M1154.50,398.00H1164.00" stroke="#000" stroke-width="2.3"/>
<text transform="translate(1148.20,405.05) scale(1,1.010)" font-size="19.00" text-anchor="end">0.0</text>
<path d="M1167.30,398.00V406.80" stroke="#000" stroke-width="2.3"/>
<text transform="translate(1167.30,430.30) scale(1,1.010)" font-size="19.00" text-anchor="middle">0.0</text>
<path d="M1154.50,323.26H1164.00" stroke="#000" stroke-width="2.3"/>
<text transform="translate(1148.20,330.31) scale(1,1.010)" font-size="19.00" text-anchor="end">0.2</text>
<path d="M1236.96,398.00V406.80" stroke="#000" stroke-width="2.3"/>
<text transform="translate(1236.96,430.30) scale(1,1.010)" font-size="19.00" text-anchor="middle">0.2</text>
<path d="M1154.50,248.52H1164.00" stroke="#000" stroke-width="2.3"/>
<text transform="translate(1148.20,255.57) scale(1,1.010)" font-size="19.00" text-anchor="end">0.4</text>
<path d="M1306.62,398.00V406.80" stroke="#000" stroke-width="2.3"/>
<text transform="translate(1306.62,430.30) scale(1,1.010)" font-size="19.00" text-anchor="middle">0.4</text>
<path d="M1154.50,173.78H1164.00" stroke="#000" stroke-width="2.3"/>
<text transform="translate(1148.20,180.83) scale(1,1.010)" font-size="19.00" text-anchor="end">0.6</text>
<path d="M1376.28,398.00V406.80" stroke="#000" stroke-width="2.3"/>
<text transform="translate(1376.28,430.30) scale(1,1.010)" font-size="19.00" text-anchor="middle">0.6</text>
<path d="M1154.50,99.04H1164.00" stroke="#000" stroke-width="2.3"/>
<text transform="translate(1148.20,106.09) scale(1,1.010)" font-size="19.00" text-anchor="end">0.8</text>
<path d="M1445.94,398.00V406.80" stroke="#000" stroke-width="2.3"/>
<text transform="translate(1445.94,430.30) scale(1,1.010)" font-size="19.00" text-anchor="middle">0.8</text>
<path d="M1154.50,24.30H1164.00" stroke="#000" stroke-width="2.3"/>
<text transform="translate(1148.20,31.35) scale(1,1.010)" font-size="19.00" text-anchor="end">1.0</text>
<path d="M1515.60,398.00V406.80" stroke="#000" stroke-width="2.3"/>
<text transform="translate(1515.60,430.30) scale(1,1.010)" font-size="19.00" text-anchor="middle">1.0</text>
<text transform="translate(1339.95,456.40) scale(1,0.920)" font-size="22.40" text-anchor="middle">1−Specificity</text>
<text transform="translate(1106.30,210.1) rotate(-90) scale(1,0.95)" font-size="22.3" text-anchor="middle">Sensitivity</text>
<text transform="translate(1508.70,362.29) scale(1,0.970)" font-size="19.15" text-anchor="end">AUC: 0.910</text>
<text transform="translate(1508.70,390.49) scale(1,0.970)" font-size="19.15" text-anchor="end">CI: 0.786−1.000</text>
</g>
</svg></body></html>
